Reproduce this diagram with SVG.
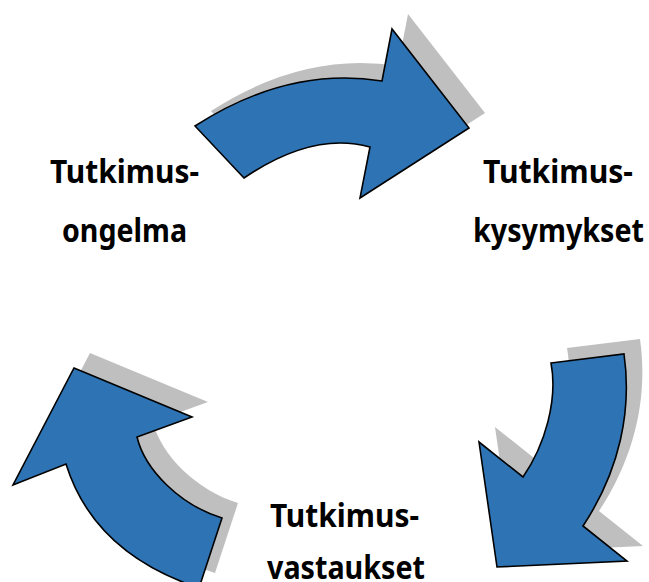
<svg xmlns="http://www.w3.org/2000/svg" width="649" height="582" viewBox="0 0 649 582">
  <style>
    .shadow { fill: #BFBFBF; stroke: none; }
    .arrow { fill: #2E74B5; stroke: #000000; stroke-width: 1.6; stroke-linejoin: miter; }
    .label { font-family: "Noto Sans", "DejaVu Sans", sans-serif; font-weight: bold; font-size: 32px; fill: #000000; }
  </style>
  <defs>
    <path id="arrowTop" d="M195,126 Q288,66 382,81 L392,29 L469,128 L360,198 L370,147 Q313,131 244,178 Z"/>
    <path id="arrowRight" d="M551,363 L624,354 C632,410 620,470 583,526 L627,561 L497,567 L479,442 L523,477 C545,445 558,400 551,363 Z"/>
    <path id="arrowLeft" d="M74,368 L192,417 L137,437 C145,470 180,505 222,518 L199,588 C130,565 85,525 66,464 L13,485 Z"/>
  </defs>

  <rect width="649" height="582" fill="#FFFFFF"/>

  <!-- curved cycle arrows with drop shadows -->
  <g id="connectors">
    <g id="arrow-problem-to-questions">
      <use href="#arrowTop" class="shadow" transform="translate(16,-15)"/>
      <use href="#arrowTop" class="arrow"/>
    </g>
    <g id="arrow-questions-to-answers">
      <use href="#arrowRight" class="shadow" transform="translate(16,-15)"/>
      <use href="#arrowRight" class="arrow"/>
    </g>
    <g id="arrow-answers-to-problem">
      <use href="#arrowLeft" class="shadow" transform="translate(16,-15)"/>
      <use href="#arrowLeft" class="arrow"/>
    </g>
  </g>

  <g id="node-ongelma">
    <text class="label" x="50" y="182.5" textLength="149" lengthAdjust="spacingAndGlyphs">Tutkimus-</text>
    <text class="label" x="62" y="241.5" textLength="125" lengthAdjust="spacingAndGlyphs">ongelma</text>
  </g>

  <g id="node-kysymykset">
    <text class="label" x="483" y="182.5" textLength="150" lengthAdjust="spacingAndGlyphs">Tutkimus-</text>
    <text class="label" x="473" y="241.5" textLength="171" lengthAdjust="spacingAndGlyphs">kysymykset</text>
  </g>

  <g id="node-vastaukset">
    <text class="label" x="270" y="526.5" textLength="149" lengthAdjust="spacingAndGlyphs">Tutkimus-</text>
    <text class="label" x="267" y="579" textLength="158" lengthAdjust="spacingAndGlyphs">vastaukset</text>
  </g>
</svg>
